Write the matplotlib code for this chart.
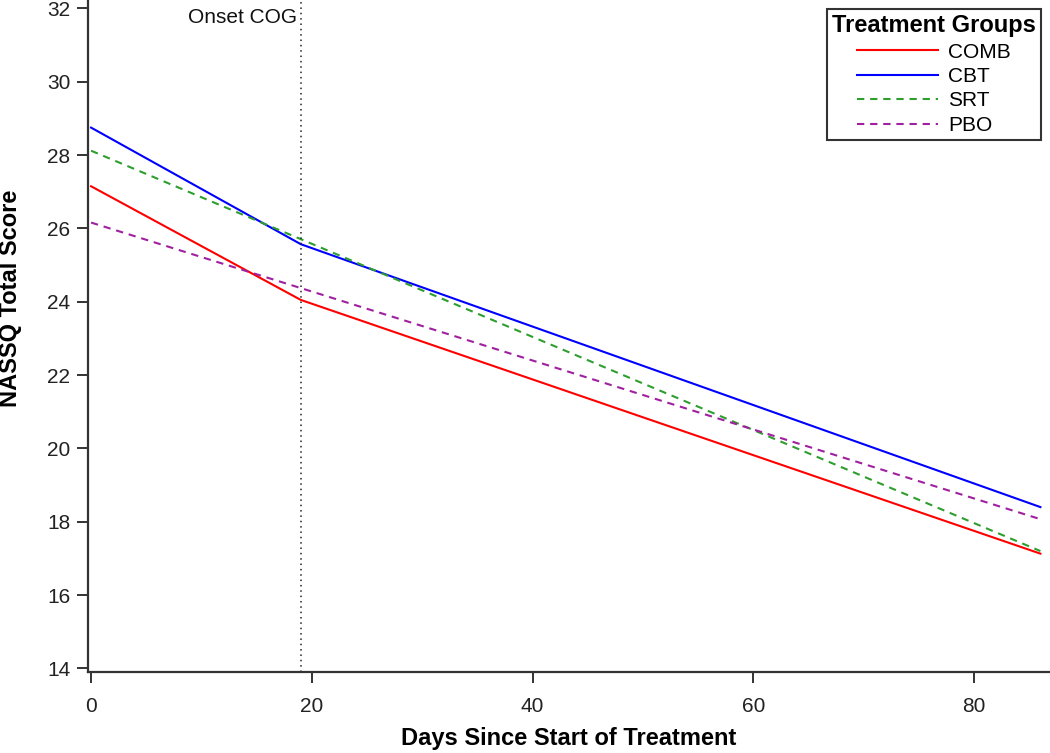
import matplotlib
matplotlib.use("Agg")
import matplotlib.pyplot as plt

plt.rcParams['font.family'] = ['Liberation Sans', 'DejaVu Sans']

# Data
onset_day = 19
comb_x = [0, 19, 86]
comb_y = [27.15, 24.05, 17.13]
cbt_x = [0, 19, 86]
cbt_y = [28.75, 25.57, 18.40]
srt_x = [0, 86]
srt_y = [28.12, 17.20]
pbo_x = [0, 86]
pbo_y = [26.16, 18.07]

x_ticks = [0, 20, 40, 60, 80]
y_ticks = [14, 16, 18, 20, 22, 24, 26, 28, 30, 32]

W, H = 1050, 753
fig = plt.figure(figsize=(W / 100, H / 100), dpi=100)
ax = fig.add_axes([88.3 / W, 1 - 671.7 / H, 1 - 88.3 / W, 671.7 / H])

lw = 1.5
dash = (0, (3.5, 2.8))
ax.plot(comb_x, comb_y, color='#FF0000', lw=lw, label='COMB')
ax.plot(cbt_x, cbt_y, color='#0000FF', lw=lw, label='CBT')
ax.plot(srt_x, srt_y, color='#2E9E2E', lw=lw, linestyle=dash, label='SRT')
ax.plot(pbo_x, pbo_y, color='#A020A0', lw=lw, linestyle=dash, label='PBO')

ax.axvline(onset_day, color='#222222', lw=1.1, linestyle=(0, (1, 2.5)))
ax.text(onset_day - 0.3, 31.6, 'Onset COG', ha='right', va='baseline',
        fontsize=15, color='#111111')

ax.set_xlim(-0.25, 86.87)
ax.set_ylim(13.91, 32.23)
ax.set_xticks(x_ticks)
ax.set_yticks(y_ticks)

for s in ['top', 'right']:
    ax.spines[s].set_visible(False)
for s in ['left', 'bottom']:
    ax.spines[s].set_linewidth(1.6)
    ax.spines[s].set_color('#333333')

ax.tick_params(axis='both', direction='out', length=8, width=1.4,
               color='#333333', labelsize=15, labelcolor='#222222')
ax.tick_params(axis='y', pad=5)
ax.tick_params(axis='x', pad=10)

ax.set_xlabel('Days Since Start of Treatment', fontsize=17,
              fontweight='bold')
ax.xaxis.label.set_va('center')
ax.xaxis.set_label_coords(0.5, (671.7 - 738) / 671.7)
ax.set_ylabel('NASSQ Total Score', fontsize=17, fontweight='bold')
ax.yaxis.label.set_va('center')
ax.yaxis.set_label_coords((11 - 88.3) / 961.7, (671.7 - 298.5) / 671.7)

leg = ax.legend(title='Treatment Groups', loc='upper right',
                bbox_to_anchor=(1041 / W, 1 - 9 / H),
                bbox_transform=fig.transFigure, borderaxespad=0,
                fontsize=15, title_fontproperties={'weight': 'bold', 'size': 17},
                frameon=True, fancybox=False, framealpha=1,
                handlelength=3.9, handletextpad=0.5, labelspacing=0.26,
                borderpad=0.25)
leg.get_frame().set_edgecolor('#333333')
leg.get_frame().set_linewidth(1.5)

fig.savefig('out.png', dpi=100)
